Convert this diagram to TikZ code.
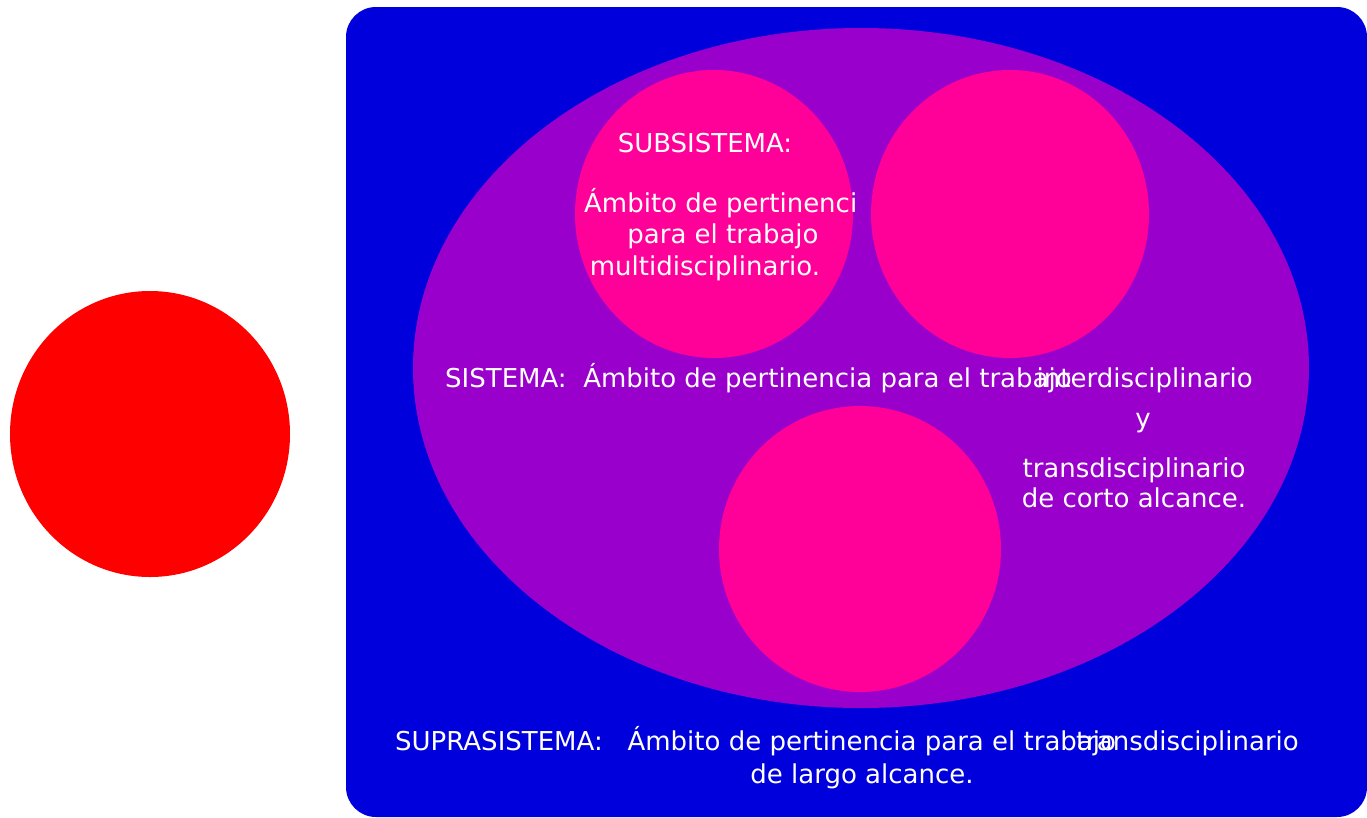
\documentclass[tikz,border=0pt]{standalone}
\usepackage{fontspec}
\setmainfont{DejaVu Sans}
\usetikzlibrary{positioning}

\definecolor{supra}{RGB}{0,0,220}
\definecolor{sist}{RGB}{153,0,204}
\definecolor{subs}{RGB}{255,0,153}
\definecolor{externo}{RGB}{255,0,0}

\begin{document}
\begin{tikzpicture}[x=1pt,y=-1pt,
  lbl/.style={text=white,inner sep=0pt,font=\fontsize{26}{31}\selectfont}]
\useasboundingbox (0,0) rectangle (1367,817);
% outer areas
\fill[externo] (150,434) ellipse (140 and 143);
\fill[supra,rounded corners=30pt] (346,7) rectangle (1367,817);
\fill[sist] (861,368) ellipse (448 and 340);
% the three subsystems
\fill[subs] (714,214) ellipse (139 and 144);
\fill[subs] (1010,214) ellipse (139 and 144);
\fill[subs] (860,549) ellipse (141 and 143);
% subsystem text
\node[lbl,anchor=base] (subtit) at (705,152) {SUBSISTEMA:};
\node[lbl,anchor=base west] (subamb) at (584,212) {Ámbito de pertinenci};
\node[lbl,anchor=base] (subpara) at (723,243) {para el trabajo};
\node[lbl,anchor=base] (submulti) at (705,275) {multidisciplinario.};
% system text
\node[lbl,anchor=base west] (sistit) at (445,387) {SISTEMA:\ \ Ámbito de pertinencia para el trabajo};
\node[lbl,anchor=base east] (sisinter) at (1253,387) {interdisciplinario};
\node[lbl,anchor=base] (sisy) at (1143,427) {y};
\node[lbl,anchor=base] (sistrans) at (1134,477) {transdisciplinario};
\node[lbl,anchor=base] (siscorto) at (1134,507) {de corto alcance.};
% suprasystem text
\node[lbl,anchor=base west] (suptit) at (395,750) {SUPRASISTEMA:\ \ \ Ámbito de pertinencia para el trabajo};
\node[lbl,anchor=base east] (suptrans) at (1299,750) {transdisciplinario};
\node[lbl,anchor=base] (suplargo) at (862,783) {de largo alcance.};
\end{tikzpicture}
\end{document}
